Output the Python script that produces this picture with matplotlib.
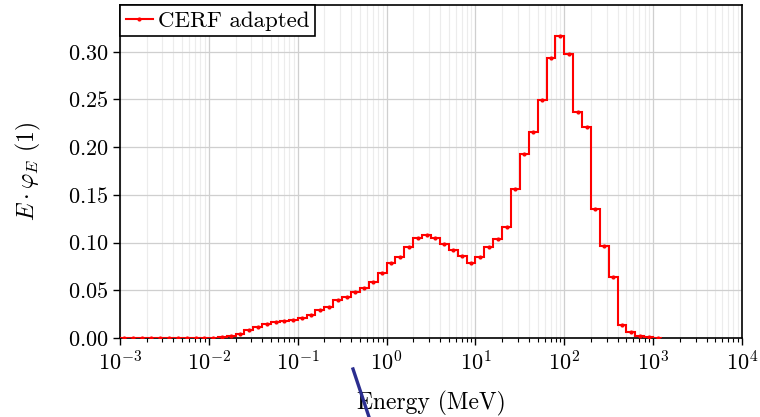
#!/usr/bin/env python

import numpy as np
import matplotlib
matplotlib.use("Agg")
import matplotlib.pyplot as plt
from matplotlib.lines import Line2D

# log10 bin edges, 10 bins per decade from 1e-3 to 10^3.1 MeV
log_edges = np.round(np.arange(-3.0, 3.15, 0.1), 2)

# E * phi_E per bin
vals_m3 = [0.0, 0.0, 0.0, 0.0, 0.0, 0.0, 0.0, 0.0, 0.0, 0.0]
vals_m2 = [0.0003, 0.001, 0.0025, 0.0042, 0.008, 0.0119, 0.0147, 0.0164, 0.0175, 0.0192]
vals_m1 = [0.0213, 0.0238, 0.029, 0.0329, 0.0395, 0.0434, 0.0483, 0.0524, 0.0587, 0.0682]
vals_0 = [0.079, 0.0853, 0.0958, 0.1052, 0.108, 0.1052, 0.0986, 0.0923, 0.086, 0.079]
vals_1 = [0.0853, 0.0958, 0.1042, 0.1168, 0.156, 0.1933, 0.2157, 0.2493, 0.2934, 0.3168]
vals_2 = [0.2976, 0.2367, 0.2213, 0.1357, 0.0965, 0.0643, 0.0133, 0.006, 0.0024, 0.0012]
vals_3 = [0.0005]

label = "CERF adapted"


def main():
    plt.rcParams['font.family'] = 'serif'
    plt.rcParams['font.serif'] = ['cmr10']
    plt.rcParams['mathtext.fontset'] = 'cm'
    plt.rcParams['axes.formatter.use_mathtext'] = True
    plt.rcParams['font.size'] = 17

    values = np.array(vals_m3 + vals_m2 + vals_m1 + vals_0 + vals_1 + vals_2 + vals_3)
    edges = 10.0 ** log_edges
    centers = np.sqrt(edges[:-1] * edges[1:])

    fig = plt.figure(figsize=(7.6, 4.17), dpi=100)
    ax = fig.add_axes([120 / 760, 79 / 417, 622 / 760, 333 / 417])

    ax.stairs(values, edges, color='red', lw=1.5, zorder=3)
    ax.plot(centers, values, ls='none', marker='.', ms=4, color='red', zorder=4)

    ax.set_xscale('log')
    ax.set_xlim(1e-3, 1e4)
    ax.set_ylim(0, 0.349)
    ax.set_yticks(np.arange(0, 0.31, 0.05))

    ax.grid(True, which='major', color='#cfcfcf', lw=0.9)
    ax.grid(True, which='minor', axis='x', color='#ececec', lw=0.8)
    ax.set_axisbelow(True)

    ax.tick_params(which='major', direction='out', length=5, width=1, labelsize=16)
    ax.tick_params(which='minor', direction='out', length=3, width=0.8)
    for s in ax.spines.values():
        s.set_linewidth(1.2)

    ax.set_xlabel('Energy (MeV)', labelpad=12)
    ax.set_ylabel(r'$E \cdot \varphi_E$ (1)', labelpad=18)

    handle = Line2D([], [], color='red', lw=1.5, marker='.', ms=4)
    leg = ax.legend([handle], [label], loc='upper left', borderaxespad=0.0,
                    fancybox=False, framealpha=1, edgecolor='black',
                    handlelength=1.2, handletextpad=0.2, borderpad=0.25,
                    fontsize=16.5)
    leg.get_frame().set_linewidth(1.2)

    # stray slash below the axis
    fig.add_artist(Line2D([353 / 760, 371 / 760], [48 / 417, -6 / 417],
                          color='#2b2e8f', lw=2.4, zorder=10))

    fig.savefig('out.png', dpi=100)


if __name__ == "__main__":
    main()
